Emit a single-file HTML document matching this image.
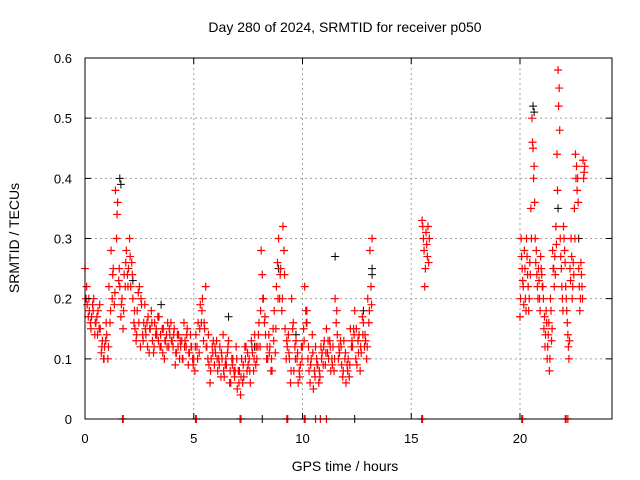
<!DOCTYPE html>
<html><head><meta charset="utf-8"><style>
body{margin:0;background:#fff}
svg{display:block;font-family:"Liberation Sans",sans-serif}
</style></head><body>
<svg id="chart" width="640" height="480" viewBox="0 0 640 480">
<rect width="640" height="480" fill="#fff"/>
<g id="grid"></g>
<g id="black"></g>
<g id="red"></g>
<rect x="85" y="58" width="527" height="361" fill="none" stroke="#000" stroke-width="1"/>
<g id="axes"></g>
<text x="345" y="32" text-anchor="middle" font-size="14">Day 280 of 2024, SRMTID for receiver p050</text>
<text x="345" y="471" text-anchor="middle" font-size="14">GPS time / hours</text>
<text transform="translate(19,238) rotate(-90)" text-anchor="middle" font-size="14">SRMTID / TECUs</text>
</svg>
<script>
const xTicks=[0,5,10,15,20];
const yTicks=[0,0.1,0.2,0.3,0.4,0.5,0.6];
const yTickLabels=["0","0.1","0.2","0.3","0.4","0.5","0.6"];
const segStartsA=[0,1,2,3,4,5,6,7,8,9,10,11,12,13];
const redA=[
[.25,.19,.18,.17,.2,.16,.18,.15,.13,.12],
[.14,.22,.28,.25,.38,.36,.22,.2,.24,.28],
[.25,.22,.2,.15,.18,.22,.19,.16,.14,.17],
[.15,.13,.16,.14,.17,.12,.15,.13,.16,.14],
[.13,.15,.11,.14,.12,.1,.13,.15,.11,.12],
[.1,.14,.16,.19,.2,.15,.12,.09,.1,.13],
[.11,.08,.12,.1,.07,.09,.13,.06,.1,.08],
[.05,.08,.1,.07,.12,.09,.06,.11,.14,.1],
[.16,.28,.2,.14,.1,.12,.08,.18,.22,.3],
[.25,.32,.15,.12,.1,.2,.08,.13,.06,.09],
[.12,.22,.18,.08,.1,.05,.12,.09,.07,.11],
[.13,.15,.1,.08,.12,.2,.14,.11,.09,.13],
[.06,.1,.15,.12,.18,.09,.14,.11,.16,.13],
[.2,.28,.3]];
const redB=[
[.2,.17,.16,.19,.14,.17,.15,.11,.1,.13],
[.1,.16,.2,.19,.3,.23,.17,.15,.22,.24],
[.3,.26,.16,.13,.21,.12,.14,.19,.16,.11],
[.18,.11,.14,.17,.12,.15,.1,.14,.12,.16],
[.12,.09,.14,.1,.13,.16,.12,.09,.14,.1],
[.08,.12,.11,.16,.13,.22,.1,.06,.12,.09],
[.13,.1,.07,.14,.09,.11,.06,.1,.08,.12],
[.08,.04,.06,.12,.08,.1,.13,.08,.09,.12],
[.12,.24,.16,.1,.14,.08,.15,.11,.26,.2],
[.18,.28,.1,.14,.06,.15,.12,.1,.08,.12],
[.15,.18,.1,.06,.14,.08,.1,.06,.12,.09],
[.09,.11,.13,.1,.08,.16,.1,.13,.07,.1],
[.09,.07,.12,.15,.1,.13,.08,.17,.12,.1],
[.16,.22]];
const redD=[
[.22,.2,.15,.18,.16,.14,.19,.12,.1,.16],
[.12,.18,.24,.21,.34,.25,.19,.18,.26,.22],
[.27,.24,.18,.14,.16,.2,.13,.15,.12,.15],
[.16,.12,.15,.13,.14,.11,.13,.12,.15,.13],
[.14,.11,.12,.13,.1,.12,.14,.11,.12,.09],
[.12,.1,.15,.18,.16,.12,.14,.08,.11,.12],
[.1,.09,.11,.08,.1,.12,.08,.09,.07,.1],
[.06,.07,.09,.1,.11,.08,.12,.1,.12,.14],
[.18,.2,.17,.12,.11,.1,.13,.15,.2,.24],
[.2,.24,.13,.11,.08,.16,.1,.11,.07,.1],
[.13,.16,.12,.09,.11,.07,.09,.08,.1,.12],
[.11,.13,.12,.09,.1,.18,.12,.12,.08,.11],
[.08,.09,.13,.14,.15,.11,.12,.14,.14,.12],
[.18,.19]];
const clusterT=[15.5,15.53,15.56,15.59,15.62,15.65,15.68,15.71,15.74,15.77,15.8,15.83];
const clusterV=[.33,.32,.3,.28,.22,.25,.31,.29,.27,.32,.26,.3];
const segStartsC=[20,20.5,21,21.5,22,22.5];
const redC=[
[.17,.3,.25,.22,.28,.2,.3,.24,.18,.26],
[.35,.5,.45,.42,.3,.28,.22,.25,.2,.27],
[.24,.22,.15,.12,.18,.1,.14,.08,.2,.13],
[.28,.25,.27,.32,.44,.58,.55,.3,.25,.2],
[.32,.28,.22,.18,.14,.1,.25,.3,.2,.26],
[.35,.44,.42,.4,.25,.18,.26,.22,.43,.41]];
const redE=[
[.2,.27,.23,.19,.25,.18,.27,.22,.2,.24],
[.3,.46,.4,.36,.26,.24,.2,.23,.18,.25],
[.22,.2,.17,.14,.16,.12,.16,.1,.18,.15],
[.25,.22,.24,.29,.38,.52,.48,.27,.22,.18],
[.3,.26,.2,.16,.12,.13,.23,.27,.22,.24],
[.3,.4,.38,.36,.22,.2,.24,.2,.4,.42]];
const zeroRedT=[1.72,1.76,5.08,5.12,7.13,7.17,9.28,9.32,10.08,10.12,10.6,10.82,11.1,15.48,15.52,20.08,20.12,22.08,22.12,22.2];
const blackT=[1.6,1.65,8.2,8.9,11.5,13.2,13.2,20.6,21.75,22.7,6.6,7.8,9.7,10.2,3.5,2.2,12.8,20.65,8.15,12.4];
const blackV=[.4,.39,.2,.25,.27,.25,.24,.52,.35,.3,.17,.12,.14,.16,.19,.23,.18,.51,0,0];

const X0=85,X1=612,Y0=419,Y1=58,XMAX=24.23,YMAX=0.6;
const xs=t=>X0+(t/XMAX)*(X1-X0);
const ys=v=>Y0-(v/YMAX)*(Y0-Y1);
const NS="http://www.w3.org/2000/svg";
function mk(tag,parent){const e=document.createElementNS(NS,tag);parent.appendChild(e);return e;}
const grid=document.getElementById('grid'),axes=document.getElementById('axes');
xTicks.forEach(t=>{
 const x=xs(t);
 if(t>0){const l=mk('line',grid);
 
 
 l.setAttribute('x1',x);l.setAttribute('x2',x);l.setAttribute('y1',Y1);l.setAttribute('y2',Y0);
 l.setAttribute('stroke','#a0a0a0');l.setAttribute('stroke-dasharray','2,3');}
 const tk=mk('path',axes);
 
 
 tk.setAttribute('d',`M${x},${Y0}v-6M${x},${Y1}v6`);tk.setAttribute('stroke','#000');
 const tx=mk('text',axes);
 
 
 tx.setAttribute('x',x);tx.setAttribute('y',443);tx.setAttribute('text-anchor','middle');tx.setAttribute('font-size','13');
 tx.textContent=String(t);
});
yTicks.forEach((v,i)=>{
 const y=ys(v);
 if(v>0&&v<YMAX){const l=mk('line',grid);
 
 
 l.setAttribute('x1',X0);l.setAttribute('x2',X1);l.setAttribute('y1',y);l.setAttribute('y2',y);
 l.setAttribute('stroke','#a0a0a0');l.setAttribute('stroke-dasharray','2,3');}
 const tk=mk('path',axes);
 
 
 tk.setAttribute('d',`M${X0},${y}h6M${X1},${y}h-6`);tk.setAttribute('stroke','#000');
 const tx=mk('text',axes);
 
 
 tx.setAttribute('x',72);tx.setAttribute('y',y+5);tx.setAttribute('text-anchor','end');tx.setAttribute('font-size','13');
 tx.textContent=yTickLabels[i];
});
let dRed='',dBlack='';
const plus=(t,v)=>{const x=xs(t),y=ys(v);return `M${x-4},${y}h8M${x},${y-4}v8`;};
segStartsA.forEach((s,i)=>{redA[i].forEach((v,j)=>{dRed+=plus(s+j*0.1,v);});});
segStartsA.forEach((s,i)=>{redB[i].forEach((v,j)=>{dRed+=plus(s+0.05+j*0.1,v);});});
segStartsA.forEach((s,i)=>{redD[i].forEach((v,j)=>{dRed+=plus(s+0.075+j*0.1,v);});});
clusterT.forEach((t,i)=>{dRed+=plus(t,clusterV[i]);});
segStartsC.forEach((s,i)=>{redC[i].forEach((v,j)=>{dRed+=plus(s+j*0.05,v);});});
segStartsC.forEach((s,i)=>{redE[i].forEach((v,j)=>{dRed+=plus(s+0.025+j*0.05,v);});});
zeroRedT.forEach(t=>{dRed+=plus(t,0);});
blackT.forEach((t,i)=>{dBlack+=plus(t,blackV[i]);});
const pb=mk('path',document.getElementById('black'));


pb.setAttribute('d',dBlack);pb.setAttribute('stroke','#000');pb.setAttribute('fill','none');
const pr=mk('path',document.getElementById('red'));


pr.setAttribute('d',dRed);pr.setAttribute('stroke','#ff0000');pr.setAttribute('stroke-width','1.2');pr.setAttribute('fill','none');
</script>
</body></html>
